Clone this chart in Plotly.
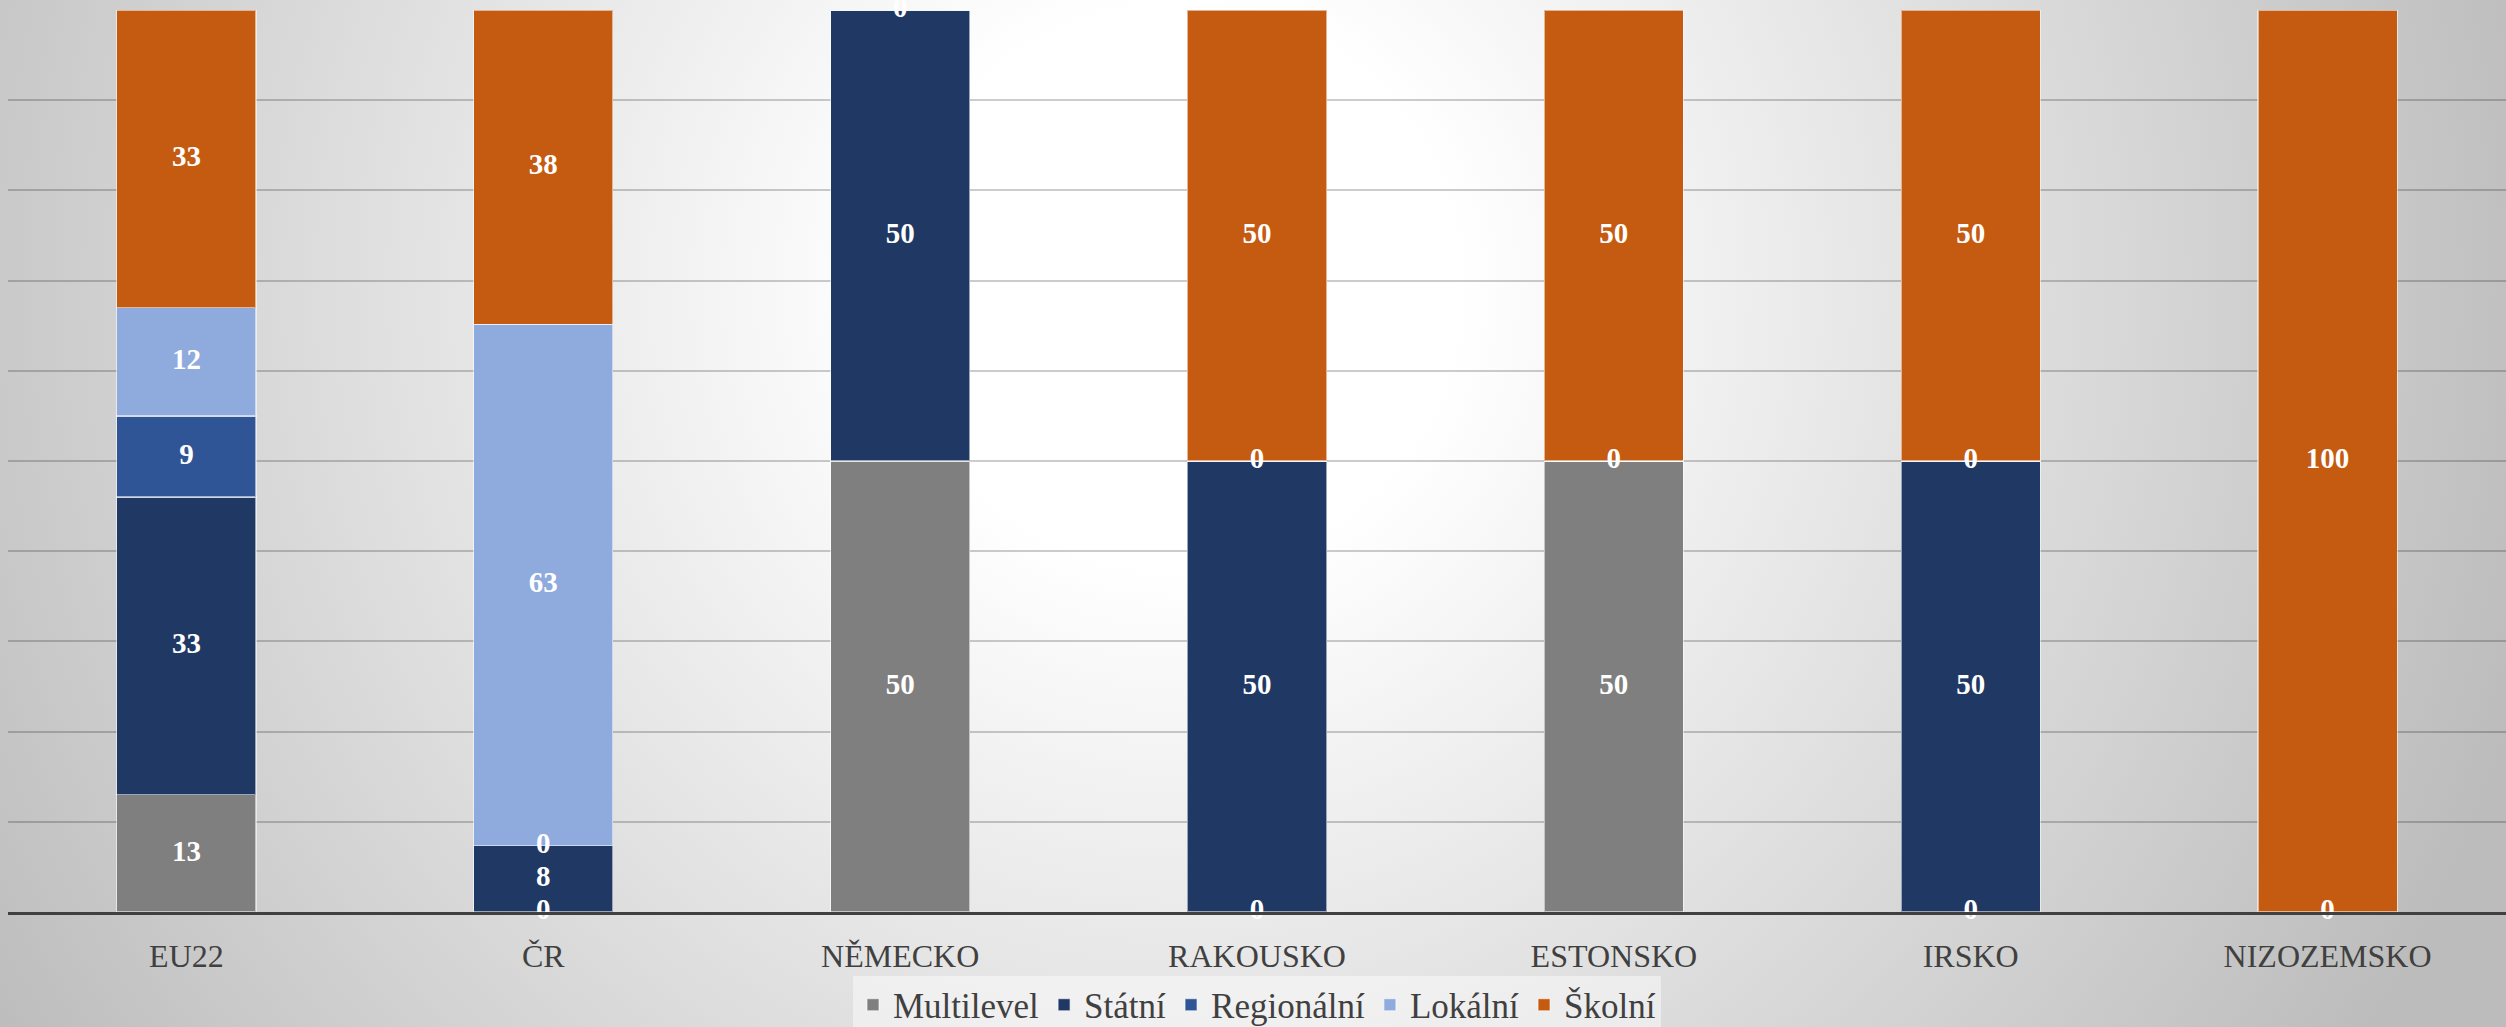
import base64
import plotly.graph_objects as go

categories = ["EU22", "ČR", "NĚMECKO", "RAKOUSKO", "ESTONSKO", "IRSKO", "NIZOZEMSKO"]
series_names = ["Multilevel", "Státní", "Regionální", "Lokální", "Školní"]
multilevel = [13, 0, 50, 0, 50, 0, 0]
statni = [33, 8, 50, 50, None, 50, None]
regionalni = [9, 0, None, 0, 0, 0, None]
lokalni = [12, 63, None, None, None, None, None]
skolni = [33, 38, 0, 50, 50, 50, 100]
series_values = [multilevel, statni, regionalni, lokalni, skolni]
colors = ["#7f7f7f", "#1f3864", "#2f5597", "#8faadc", "#c55a11"]
y_ticks = [0, 10, 20, 30, 40, 50, 60, 70, 80, 90, 100]

W, H = 2506, 1027
ML, MR, MT, MB = 8, 0, 10, 115
PW, PH = W - ML - MR, H - MT - MB

SERIF = "Liberation Serif"

svg = f'''<svg xmlns="http://www.w3.org/2000/svg" width="{W}" height="{H}">
<defs><radialGradient id="g" gradientUnits="userSpaceOnUse" cx="{W*0.47}" cy="{H*0.28}" r="{W*0.56}">
<stop offset="0" stop-color="#ffffff"/><stop offset="0.2" stop-color="#ffffff"/>
<stop offset="1" stop-color="#bcbcbc"/></radialGradient></defs>
<rect width="{W}" height="{H}" fill="url(#g)"/></svg>'''
bg_uri = "data:image/svg+xml;base64," + base64.b64encode(svg.encode()).decode()

fig = go.Figure()
for name, vals, col in zip(series_names, series_values, colors):
    fig.add_trace(go.Bar(
        x=categories, y=[v if v is not None else 0 for v in vals], name=name,
        marker=dict(color=col, line=dict(color="rgba(255,255,255,0.55)", width=1.2)),
        hoverinfo="skip",
    ))

# data labels at midpoints of normalised segments
lx, ly, lt = [], [], []
for i, cat in enumerate(categories):
    total = sum((s[i] or 0) for s in series_values)
    cum = 0.0
    for s in series_values:
        v = s[i]
        if v is None:
            continue
        pct = v / total * 100
        lx.append(cat)
        ly.append(cum + pct / 2)
        lt.append(str(v))
        cum += pct
fig.add_trace(go.Scatter(
    x=lx, y=ly, text=lt, mode="text", showlegend=False, cliponaxis=False,
    textfont=dict(family=SERIF, size=29, color="white", weight="bold"),
    hoverinfo="skip",
))

fig.update_layout(
    width=W, height=H,
    font=dict(family=SERIF, color="#404040"),
    margin=dict(l=ML, r=MR, t=MT, b=MB, autoexpand=False),
    barmode="stack", barnorm="percent", bargap=0.61,
    paper_bgcolor="#d0d0d0", plot_bgcolor="rgba(0,0,0,0)",
    images=[dict(source=bg_uri, xref="paper", yref="paper",
                 x=-ML / PW, y=1 + MT / PH, sizex=W / PW, sizey=H / PH,
                 xanchor="left", yanchor="top", sizing="stretch", layer="below")],
    xaxis=dict(range=[-0.5, 6.5], showgrid=False, showline=True, linecolor="#404040",
               linewidth=3, ticks="", ticklabelstandoff=14, automargin=False,
               tickfont=dict(family=SERIF, size=32, color="#404040")),
    yaxis=dict(range=[0, 100], tickvals=y_ticks, showticklabels=False, showgrid=True,
               gridcolor="rgba(0,0,0,0.2)", gridwidth=1.5, zeroline=False, showline=False,
               automargin=False),
    legend=dict(orientation="h", x=0.5, xanchor="center", y=-(1005 - (MT + PH)) / PH,
                yanchor="middle", bgcolor="rgba(255,255,255,0.45)",
                font=dict(family=SERIF, size=35, color="#404040"),
                itemwidth=30, traceorder="normal"),
    showlegend=True,
)

fig.write_html(
    "out.html",
    config={"displayModeBar": False},
    post_script="document.body.style.margin='0';document.body.style.overflow='hidden';",
)
